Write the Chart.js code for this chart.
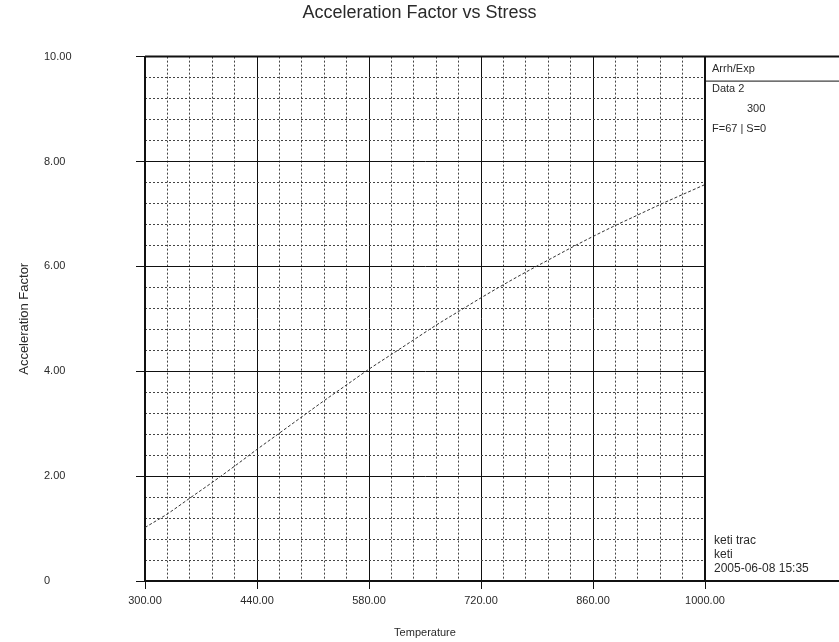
<!DOCTYPE html>
<html>
<head>
<meta charset="utf-8">
<title>Acceleration Factor vs Stress</title>
<script src="https://cdn.jsdelivr.net/npm/chart.js@4.4.1/dist/chart.umd.min.js"></script>
<style>
  html, body { margin: 0; padding: 0; background: #fff; }
  #wrap { width: 839px; height: 642px; }
</style>
</head>
<body>
<div id="wrap"><canvas id="afChart"></canvas></div>
<script>
// Arrh/Exp model, Data 2, use level 300
const temperature = [300, 328, 356, 384, 412, 440, 468, 496, 524, 552, 580, 608, 636,
                     664, 692, 720, 748, 776, 804, 832, 860, 888, 916, 944, 972, 1000];
const accelFactor = [1.02, 1.28, 1.58, 1.88, 2.19, 2.51, 2.82, 3.13, 3.44, 3.74, 4.04, 4.32, 4.60,
                     4.88, 5.14, 5.40, 5.65, 5.89, 6.12, 6.35, 6.57, 6.78, 6.98, 7.18, 7.37, 7.56];

const xTicks = [300, 440, 580, 720, 860, 1000];
const yTicks = [0, 2, 4, 6, 8, 10];
const xMinorStep = 28;
const yMinorStep = 0.4;

const panelTop = ['Arrh/Exp', 'Data 2', '300', 'F=67 | S=0'];
const panelBottom = ['keti trac', 'keti', '2005-06-08 15:35'];

const FONT = "'Liberation Sans', Arial, sans-serif";
const INK = '#2a2a2a';

// side panel to the right of the plot: frame lines and info text
const sidePanel = {
    id: 'sidePanel',
    afterDraw(chart) {
        const { ctx, chartArea } = chart;
        const left = chartArea.right;
        const right = chart.width;
        ctx.save();
        ctx.strokeStyle = '#111';
        ctx.lineWidth = 2;
        ctx.beginPath();
        ctx.moveTo(left, chartArea.top);
        ctx.lineTo(right, chartArea.top);
        ctx.moveTo(left, chartArea.bottom);
        ctx.lineTo(right, chartArea.bottom);
        ctx.moveTo(left, chartArea.top);
        ctx.lineTo(left, chartArea.bottom);
        // top border over the plot
        ctx.moveTo(chartArea.left, chartArea.top);
        ctx.lineTo(left, chartArea.top);
        ctx.stroke();

        ctx.lineWidth = 1;
        ctx.beginPath();
        ctx.moveTo(left, chartArea.top + 24.5);
        ctx.lineTo(right, chartArea.top + 24.5);
        ctx.stroke();

        ctx.fillStyle = INK;
        ctx.font = '11px ' + FONT;
        ctx.textBaseline = 'middle';
        ctx.textAlign = 'left';
        ctx.fillText(panelTop[0], left + 7, chartArea.top + 12);
        ctx.fillText(panelTop[1], left + 7, chartArea.top + 32);
        ctx.fillText(panelTop[2], left + 42, chartArea.top + 52);
        ctx.fillText(panelTop[3], left + 7, chartArea.top + 72);

        ctx.font = '12px ' + FONT;
        ctx.fillText(panelBottom[0], left + 9, chartArea.bottom - 40);
        ctx.fillText(panelBottom[1], left + 9, chartArea.bottom - 26);
        ctx.fillText(panelBottom[2], left + 9, chartArea.bottom - 12);
        ctx.restore();
    }
};

const ctx = document.getElementById('afChart').getContext('2d');
new Chart(ctx, {
    type: 'line',
    data: {
        datasets: [{
            label: 'Data 2',
            data: temperature.map((t, i) => ({ x: t, y: accelFactor[i] })),
            borderColor: '#333',
            borderWidth: 1,
            borderDash: [3, 2],
            pointRadius: 0,
            fill: false,
            cubicInterpolationMode: 'monotone'
        }]
    },
    options: {
        responsive: true,
        maintainAspectRatio: false,
        animation: false,
        layout: { padding: 0 },
        plugins: {
            legend: { display: false },
            tooltip: { enabled: false },
            title: {
                display: true,
                text: 'Acceleration Factor vs Stress',
                color: INK,
                font: { family: FONT, size: 18, weight: 'normal' },
                padding: { top: 2, bottom: 33 }
            }
        },
        scales: {
            x: {
                type: 'linear',
                position: 'bottom',
                min: 300,
                max: 1000,
                afterBuildTicks: axis => { axis.ticks = xTicks.map(v => ({ value: v })); },
                afterFit: axis => { axis.height = 61; },
                ticks: {
                    color: INK,
                    font: { family: FONT, size: 11 },
                    padding: 5,
                    maxRotation: 0,
                    autoSkip: false,
                    callback: v => v.toFixed(2)
                },
                grid: { color: '#111', lineWidth: 1, tickLength: 8, tickColor: '#111' },
                border: { color: '#111', width: 2 },
                title: {
                    display: true,
                    text: 'Temperature',
                    color: INK,
                    font: { family: FONT, size: 11 },
                    padding: { top: 0, bottom: 2 }
                }
            },
            xMinor: {
                type: 'linear',
                position: 'bottom',
                min: 300,
                max: 1000,
                ticks: { display: false, stepSize: xMinorStep },
                afterFit: axis => { axis.height = 0; },
                grid: {
                    drawTicks: false,
                    color: c => (c.index % 5 === 0 ? 'rgba(0,0,0,0)' : '#444')
                },
                border: { display: false, dash: [2, 2] }
            },
            y: {
                type: 'linear',
                position: 'left',
                min: 0,
                max: 10,
                afterBuildTicks: axis => { axis.ticks = yTicks.map(v => ({ value: v })); },
                afterFit: axis => { axis.width = 101; },
                ticks: {
                    color: INK,
                    font: { family: FONT, size: 11 },
                    crossAlign: 'far',
                    callback: v => (v === 0 ? '0' : v.toFixed(2))
                },
                grid: { color: '#111', lineWidth: 1, tickLength: 9, tickColor: '#111' },
                border: { color: '#111', width: 2 }
            },
            yMinor: {
                type: 'linear',
                position: 'left',
                min: 0,
                max: 10,
                ticks: { display: false, stepSize: yMinorStep },
                afterFit: axis => { axis.width = 0; },
                grid: {
                    drawTicks: false,
                    color: c => (c.index % 5 === 0 ? 'rgba(0,0,0,0)' : '#444')
                },
                border: { display: false, dash: [2, 2] }
            },
            yTitle: {
                type: 'linear',
                position: 'left',
                weight: 2,
                min: 0,
                max: 1,
                afterFit: axis => { axis.width = 44; },
                ticks: { display: false },
                grid: { display: false, drawTicks: false },
                border: { display: false },
                title: {
                    display: true,
                    text: 'Acceleration Factor',
                    color: INK,
                    font: { family: FONT, size: 13 },
                    padding: { top: 17, bottom: 0 }
                }
            },
            // reserves the strip on the right for the info panel
            panel: {
                type: 'linear',
                position: 'right',
                min: 0,
                max: 1,
                afterFit: axis => { axis.width = 134; },
                ticks: { display: false },
                grid: { display: false, drawTicks: false },
                border: { display: false }
            }
        }
    },
    plugins: [sidePanel]
});
</script>
</body>
</html>
